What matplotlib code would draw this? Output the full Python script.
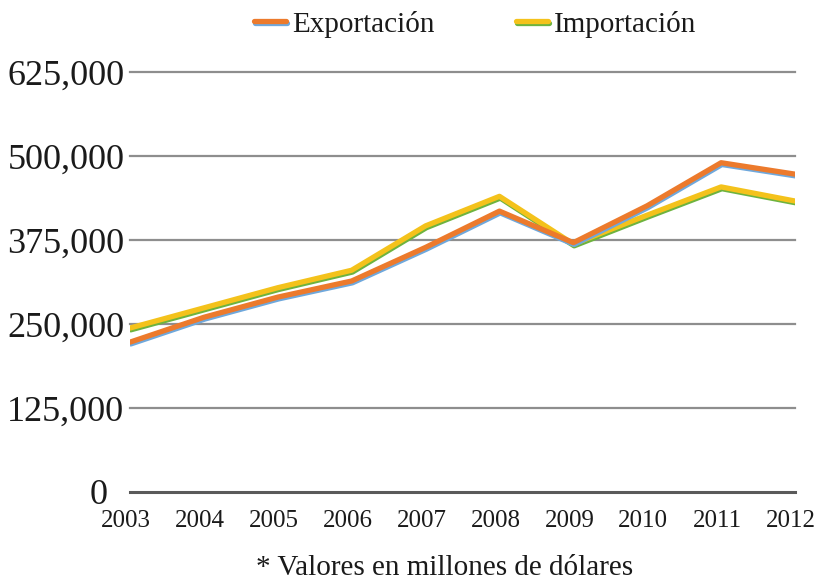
import matplotlib
matplotlib.use("Agg")
import matplotlib.pyplot as plt
import matplotlib.patheffects as pe
from matplotlib.transforms import ScaledTranslation

years = [2003, 2004, 2005, 2006, 2007, 2008, 2009, 2010, 2011, 2012]
exportacion = [223000, 260000, 290000, 314000, 364000, 418000, 371000, 426000, 490000, 473000]
importacion = [244000, 274000, 304000, 330000, 396000, 440000, 369000, 412000, 454000, 433000]
y_ticks = [0, 125000, 250000, 375000, 500000, 625000]
y_labels = ["0", "125,000", "250,000", "375,000", "500,000", "625,000"]
series_labels = ["Exportación", "Importación"]
footnote = "* Valores en millones de dólares"

plt.rcParams['font.family'] = ['Liberation Serif', 'DejaVu Serif']

fig = plt.figure(figsize=(8.19, 5.83), dpi=100)
ax = fig.add_axes([130/819, 1 - 492/583, (795 - 130)/819, (492 - 72)/583])

ax.set_xlim(years[0], years[-1])
ax.set_ylim(y_ticks[0], y_ticks[-1])

for t in y_ticks[1:]:
    ax.axhline(t, color='#8e8e8e', lw=1.6, zorder=1, clip_on=False)
ax.axhline(0, color='#5a5a5a', lw=2.2, zorder=1, clip_on=False)

ax.plot(years, exportacion, color='#EC7A2C', lw=3.8, solid_capstyle='round',
        label=series_labels[0], zorder=4,
        path_effects=[pe.SimpleLineShadow(offset=(0.6, -1.3), shadow_color='#6FA8DC', alpha=1, rho=1),
                      pe.Normal()])
ax.plot(years, importacion, color='#F4C21B', lw=3.8, solid_capstyle='round',
        label=series_labels[1], zorder=3,
        path_effects=[pe.SimpleLineShadow(offset=(0.6, -1.3), shadow_color='#6DB33F', alpha=1, rho=1),
                      pe.Normal()])

ax.set_xticks(years)
ax.set_xticklabels([str(y) for y in years], fontsize=18, color='#1a1a1a')
ax.set_yticks(y_ticks)
ax.set_yticklabels(y_labels, fontsize=26, color='#1a1a1a')
ax.tick_params(axis='both', length=0)
ax.tick_params(axis='x', pad=13)
ax.tick_params(axis='y', pad=4)
for s in ax.spines.values():
    s.set_visible(False)

fig.canvas.draw()
for lbl in ax.get_xticklabels():
    lbl.set_transform(lbl.get_transform() + ScaledTranslation(-4/100, 0, fig.dpi_scale_trans))
zero_lbl = ax.get_yticklabels()[0]
zero_lbl.set_transform(zero_lbl.get_transform() + ScaledTranslation(-17/100, 0, fig.dpi_scale_trans))

leg = fig.legend(loc='center', bbox_to_anchor=(475/819, 1 - 24/583), ncol=2,
                 frameon=False, fontsize=21, handlelength=1.1, handletextpad=0.2,
                 columnspacing=2.8, borderpad=0)
for txt in leg.get_texts():
    txt.set_color('#1a1a1a')

fig.text(445/819, 1 - 568/583, footnote, ha='center', va='center', fontsize=21, color='#1a1a1a')

fig.savefig('out.png', dpi=100)
